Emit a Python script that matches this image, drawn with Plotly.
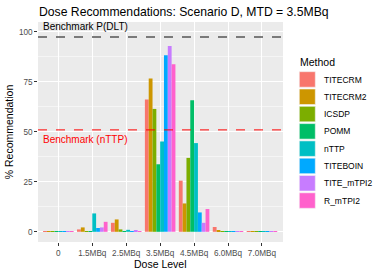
import plotly.graph_objects as go

doses = ["0", "1.5MBq", "2.5MBq", "3.5MBq", "4.5MBq", "6.0MBq", "7.0MBq"]
methods = ["TITECRM", "TITECRM2", "ICSDP", "POMM", "nTTP", "TITEBOIN", "TITE_mTPI2", "R_mTPI2"]
colors = ["#F8766D", "#CD9600", "#7CAE00", "#00BE67", "#00BFC4", "#00A9FF", "#C77CFF", "#FF61CC"]

titecrm    = [0.05, 1.2, 4.5, 66.2, 25.6, 2.4, 0.05]
titecrm2   = [0.05, 2.2, 6.2, 76.7, 14.2, 0.7, 0.05]
icsdp      = [0.05, 0.1, 1.2, 61.5, 37.0, 0.05, 0.05]
pomm       = [0.05, 0.05, 0.1, 33.8, 65.8, 0.05, 0.05]
nttp       = [0.1, 9.2, 1.0, 45.2, 44.4, 0.1, 0.1]
titeboin   = [0.05, 1.9, 0.1, 88.4, 9.7, 0.05, 0.05]
tite_mtpi2 = [0.05, 2.2, 0.5, 93.0, 4.5, 0.05, 0.05]
r_mtpi2    = [0.05, 5.0, 0.1, 83.8, 11.4, 0.05, 0.05]
series = [titecrm, titecrm2, icsdp, pomm, nttp, titeboin, tite_mtpi2, r_mtpi2]

bench_dlt = 97.5
bench_nttp = 51

W, H = 382, 273
L, R, T, B = 38, 99, 22, 31
pw, ph = W - L - R, H - T - B

def px(x):
    return (x - L) / pw

def py(y):
    return (H - B - y) / ph

fig = go.Figure()
for name, vals, col in zip(methods, series, colors):
    fig.add_trace(go.Bar(x=doses, y=vals, name=name, showlegend=False,
                         marker=dict(color=col, line=dict(width=0))))

fig.update_layout(
    width=W, height=H,
    margin=dict(l=L, r=R, t=T, b=B, autoexpand=False),
    paper_bgcolor="white", plot_bgcolor="#EBEBEB",
    barmode="group", bargap=0.1, bargroupgap=0,
    font=dict(family="Liberation Sans, Arial, sans-serif", color="#000000"),
    title=dict(text="Dose Recommendations: Scenario D, MTD = 3.5MBq", x=39 / W, xanchor="left",
               xref="container", y=1 - 12 / H, yanchor="middle", font=dict(size=12.2, color="#000000")),
    showlegend=False,
    xaxis=dict(range=[-0.6, 6.62], showgrid=True, gridcolor="white", gridwidth=1.1, automargin=False,
               ticks="outside", ticklen=2.7, tickcolor="#333333", tickfont=dict(size=8.2, color="#4D4D4D"),
               zeroline=False, showline=False),
    yaxis=dict(title=dict(text="% Recommendation", font=dict(size=10.5), standoff=3),
               range=[-5.1, 105], tickvals=[0, 25, 50, 75, 100], showgrid=True, gridcolor="white",
               gridwidth=1.1, automargin=False,
               minor=dict(tickvals=[12.5, 37.5, 62.5, 87.5], showgrid=True,
                          gridcolor="#F5F5F5", gridwidth=0.6),
               ticks="outside", ticklen=2.7, tickcolor="#333333", tickfont=dict(size=8.2, color="#4D4D4D"),
               zeroline=False, showline=False),
)

fig.add_annotation(text="Dose Level", xref="paper", yref="paper", x=0.5, y=py(264),
                   xanchor="center", yanchor="middle", showarrow=False, font=dict(size=10.5))

fig.add_shape(type="line", xref="paper", x0=0, x1=1, yref="y", y0=bench_dlt, y1=bench_dlt,
              line=dict(color="#555555", width=1.3, dash="dash"))
fig.add_shape(type="line", xref="paper", x0=0, x1=1, yref="y", y0=bench_nttp, y1=bench_nttp,
              line=dict(color="#FF0000", width=1.0, dash="dash"))
fig.add_annotation(text="Benchmark P(DLT)", xref="paper", x=0.013, xanchor="left",
                   yref="y", y=bench_dlt + 1.5, yanchor="bottom", showarrow=False,
                   font=dict(size=10, color="#000000"))
fig.add_annotation(text="Benchmark (nTTP)", xref="paper", x=0.013, xanchor="left",
                   yref="y", y=bench_nttp - 1.2, yanchor="top", showarrow=False,
                   font=dict(size=10, color="#FF0000"))

# legend (drawn)
fig.add_annotation(text="Method", xref="paper", yref="paper", x=px(298), y=py(62),
                   xanchor="left", yanchor="middle", showarrow=False, font=dict(size=10.5))
for i, (name, col) in enumerate(zip(methods, colors)):
    y0 = 71.7 + i * 17.3
    fig.add_shape(type="rect", xref="paper", yref="paper",
                  x0=px(299.3), x1=px(315.3), y0=py(y0), y1=py(y0 + 15.5),
                  fillcolor=col, line=dict(color="#F2F2F2", width=0.6))
    fig.add_annotation(text=name, xref="paper", yref="paper", x=px(321.5), y=py(y0 + 7.8),
                       xanchor="left", yanchor="middle", showarrow=False,
                       font=dict(size=8.5, color="#000000"))

fig.write_html("out.html", config={"displayModeBar": False},
               post_script="document.body.style.margin='0';document.body.style.overflow='hidden';")
